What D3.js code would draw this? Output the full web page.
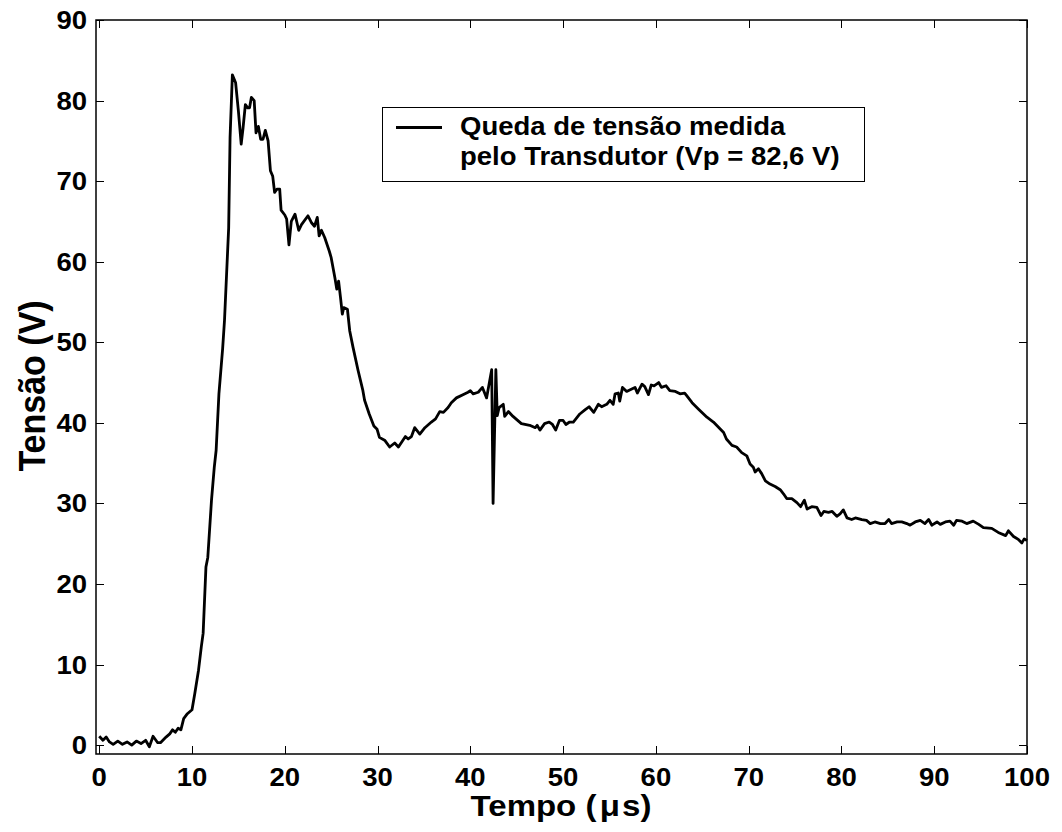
<!DOCTYPE html>
<html>
<head>
<meta charset="utf-8">
<script src="https://cdn.jsdelivr.net/npm/d3@7"></script>
<style>
  body { margin: 0; background: #fff; }
  text { font-family: "Liberation Sans", Arial, sans-serif; font-weight: bold; fill: #000; }
</style>
</head>
<body>
<svg id="chart" width="1062" height="832"></svg>
<script>
// ----------------------------
// Data
// ----------------------------
const tempo = [
  0, 0.4, 0.75, 1.1, 1.5, 2.0, 2.5, 3.0, 3.5, 4.0, 4.5, 5.0, 5.4, 5.8, 6.3, 6.6, 7.2, 7.6, 7.9, 8.2,
  8.5, 8.8, 9.1, 9.5, 10.0, 10.3, 10.7, 11.0, 11.2, 11.5, 11.7, 12.1, 12.4, 12.6, 12.9, 13.3, 13.5, 13.95, 14.1, 14.35,
  14.7, 15.0, 15.3, 15.5, 15.75, 16.0, 16.2, 16.4, 16.7, 16.9, 17.15, 17.4, 17.65, 17.9, 18.2, 18.45, 18.7, 18.9, 19.15, 19.45,
  19.6, 20.0, 20.2, 20.45, 20.7, 21.1, 21.5, 21.8, 22.5, 22.9, 23.2, 23.5, 23.7, 23.95, 24.3, 24.8, 25.0, 25.4, 25.6, 25.8,
  26.0, 26.2, 26.35, 26.75, 27.0, 27.35, 27.9, 28.4, 28.6, 29.1, 29.6, 29.95, 30.2, 30.8, 31.3, 31.85, 32.25, 33.0, 33.3, 33.65,
  34.0, 34.55, 35.1, 35.8, 36.25, 36.7, 37.1, 37.6, 37.95, 38.5, 39.2, 39.75, 40.0, 40.3, 40.85, 41.3, 41.75, 42.3, 42.45, 42.75,
  42.9, 43.1, 43.55, 43.7, 44.1, 44.6, 45.5, 46.4, 47.0, 47.2, 47.5, 48.0, 48.5, 48.85, 49.2, 49.6, 50.0, 50.3, 50.7, 51.1,
  51.8, 52.35, 52.8, 53.3, 53.8, 54.15, 54.7, 55.05, 55.4, 55.6, 55.95, 56.1, 56.4, 56.85, 57.4, 57.75, 58.0, 58.5, 58.8, 59.2,
  59.5, 59.8, 60.3, 60.6, 61.1, 61.5, 62.1, 62.6, 63.1, 63.3, 63.9, 64.6, 65.5, 66.2, 67.3, 67.6, 68.2, 68.7, 69.25, 69.8,
  70.15, 70.5, 70.7, 71.05, 71.4, 71.8, 72.3, 72.85, 73.4, 73.75, 74.1, 74.65, 75.2, 75.6, 76.0, 76.3, 76.8, 77.35, 77.8, 78.1,
  78.6, 79.0, 79.5, 79.85, 80.2, 80.6, 81.1, 81.5, 82.2, 82.7, 83.1, 83.6, 84.2, 84.7, 85.1, 85.4, 86.0, 86.5, 87.05, 87.4,
  87.95, 88.5, 89.0, 89.4, 89.75, 90.3, 90.65, 91.2, 91.7, 92.1, 92.4, 93.0, 93.5, 94.2, 94.8, 95.3, 96.2, 96.9, 97.7, 98.0,
  98.55, 99.1, 99.45, 99.7, 100.0
];
const tensao = [
  1.1, 0.6, 1.0, 0.4, 0.1, 0.5, 0.1, 0.4, 0.0, 0.5, 0.2, 0.6, -0.2, 1.1, 0.3, 0.3, 1.0, 1.4, 1.9, 1.6,
  2.1, 1.9, 3.3, 3.9, 4.4, 6.4, 9.3, 12.2, 13.9, 22.1, 23.3, 30.4, 34.5, 36.6, 43.6, 49.2, 52.7, 64.2, 75.4, 83.2,
  82.2, 78.7, 74.6, 76.6, 79.5, 79.1, 79.1, 80.4, 80.0, 76.0, 76.8, 75.2, 75.2, 76.3, 75.0, 71.3, 70.6, 68.6, 69.0, 69.0,
  66.4, 65.8, 65.3, 62.1, 65.0, 65.9, 63.9, 64.6, 65.7, 64.8, 64.4, 65.5, 63.2, 63.9, 63.0, 61.3, 60.5, 58.0, 56.6, 57.6,
  55.6, 53.5, 54.3, 54.1, 51.4, 49.4, 46.5, 44.1, 42.8, 41.1, 39.6, 39.2, 38.2, 37.8, 37.0, 37.5, 37.0, 38.3, 38.0, 38.3,
  39.4, 38.6, 39.4, 40.1, 40.5, 41.4, 41.3, 41.9, 42.5, 43.1, 43.5, 43.8, 44.0, 43.6, 43.8, 44.4, 43.1, 46.6, 30.0, 46.6,
  40.9, 41.9, 42.3, 40.8, 41.4, 40.8, 39.9, 39.7, 39.4, 39.7, 39.1, 39.9, 40.1, 39.8, 39.1, 40.3, 40.3, 39.8, 40.1, 40.1,
  41.1, 41.6, 42.0, 41.3, 42.3, 42.0, 42.3, 42.8, 42.3, 43.6, 43.7, 42.7, 44.4, 43.9, 44.2, 44.4, 43.7, 44.8, 44.5, 43.5,
  44.7, 44.6, 45.0, 44.4, 44.6, 44.0, 43.9, 43.6, 43.7, 43.4, 42.5, 41.7, 40.7, 40.1, 38.8, 38.0, 37.2, 37.0, 36.3, 35.9,
  34.9, 34.5, 33.9, 34.3, 33.7, 32.8, 32.4, 32.1, 31.7, 31.2, 30.6, 30.6, 30.1, 29.6, 30.4, 29.3, 29.6, 29.5, 28.5, 29.0,
  28.9, 29.0, 28.4, 28.7, 29.2, 28.2, 28.0, 28.2, 28.0, 27.9, 27.5, 27.7, 27.5, 27.5, 28.0, 27.5, 27.7, 27.7, 27.5, 27.3,
  27.7, 27.9, 27.5, 28.0, 27.3, 27.7, 27.4, 27.7, 27.8, 27.3, 27.9, 27.8, 27.5, 27.8, 27.4, 27.0, 26.9, 26.4, 26.0, 26.6,
  25.9, 25.5, 25.1, 25.6, 25.4
];
const xTicks = [0, 10, 20, 30, 40, 50, 60, 70, 80, 90, 100];
const yTicks = [0, 10, 20, 30, 40, 50, 60, 70, 80, 90];
const legendLines = ["Queda de tensão medida", "pelo Transdutor (Vp = 82,6 V)"];

// ----------------------------
// Plotting
// ----------------------------
const svg = d3.select("#chart");
const pLeft = 96, pRight = 1027, pTop = 20, pBottom = 754;
const tickLen = 8;
const sx = 1.1; // labels in the picture are a bit wider than plain Arial

const xScale = d3.scaleLinear().domain([-0.35, 100]).range([pLeft, pRight]);
const yScale = d3.scaleLinear().domain([-1.1, 90]).range([pBottom, pTop]);

// data line
const line = d3.line()
    .x((d, i) => xScale(tempo[i]))
    .y(d => yScale(d));

svg.append("path")
    .datum(tensao)
    .attr("fill", "none")
    .attr("stroke", "#000")
    .attr("stroke-width", 2.8)
    .attr("stroke-linejoin", "round")
    .attr("d", line);

// box + inward ticks on all sides
const g = svg.append("g").attr("stroke", "#000").attr("stroke-width", 1);
xTicks.forEach(t => {
  const x = Math.round(xScale(t)) + 0.5;
  g.append("line").attr("x1", x).attr("x2", x).attr("y1", pBottom).attr("y2", pBottom - tickLen);
  g.append("line").attr("x1", x).attr("x2", x).attr("y1", pTop).attr("y2", pTop + tickLen);
});
yTicks.forEach(t => {
  const y = Math.round(yScale(t)) + 0.5;
  g.append("line").attr("x1", pLeft).attr("x2", pLeft + tickLen).attr("y1", y).attr("y2", y);
  g.append("line").attr("x1", pRight).attr("x2", pRight - tickLen).attr("y1", y).attr("y2", y);
});
svg.append("rect")
    .attr("x", pLeft).attr("y", pTop)
    .attr("width", pRight - pLeft).attr("height", pBottom - pTop)
    .attr("fill", "none")
    .attr("stroke", "#000")
    .attr("stroke-width", 1.5);

// tick labels
xTicks.forEach(t => {
  svg.append("text")
      .attr("transform", `translate(${xScale(t)},786) scale(${sx},1)`)
      .attr("text-anchor", "middle")
      .attr("font-size", 25)
      .text(t);
});
yTicks.forEach(t => {
  svg.append("text")
      .attr("transform", `translate(87,${yScale(t) + 9}) scale(${sx},1)`)
      .attr("text-anchor", "end")
      .attr("font-size", 25)
      .text(t);
});

// axis titles
const xt = svg.append("text")
    .attr("transform", `translate(561,816) scale(${sx},1)`)
    .attr("text-anchor", "middle")
    .attr("font-size", 30);
xt.append("tspan").text("Tempo (");
xt.append("tspan").attr("dx", 3).text("\u03bc");
xt.append("tspan").attr("dx", 2).text("s)");

svg.append("text")
    .attr("transform", `translate(45,386) rotate(-90) scale(1,${sx})`)
    .attr("text-anchor", "middle")
    .attr("font-size", 34)
    .text("Tensão (V)");

// legend
svg.append("rect")
    .attr("x", 382.5).attr("y", 107.5)
    .attr("width", 482).attr("height", 74)
    .attr("fill", "#fff")
    .attr("stroke", "#000")
    .attr("stroke-width", 1);
svg.append("line")
    .attr("x1", 396).attr("x2", 442)
    .attr("y1", 127.5).attr("y2", 127.5)
    .attr("stroke", "#000")
    .attr("stroke-width", 2.8);
legendLines.forEach((s, i) => {
  svg.append("text")
      .attr("transform", `translate(460,${135 + i * 30}) scale(${sx},1)`)
      .attr("font-size", 25)
      .text(s);
});
</script>
</body>
</html>
